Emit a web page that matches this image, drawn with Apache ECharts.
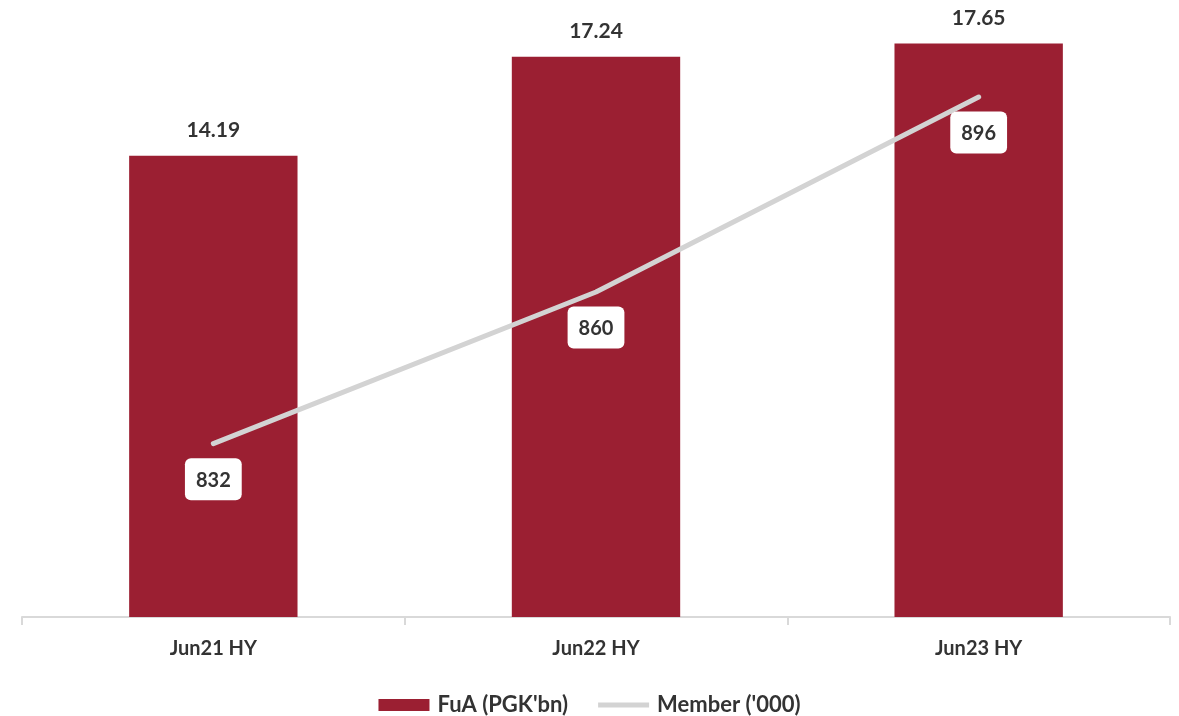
<!DOCTYPE html>
<html>
<head>
<meta charset="utf-8">
<script src="https://cdn.jsdelivr.net/npm/echarts@6/dist/echarts.min.js"></script>
<style>
  html, body { margin: 0; padding: 0; background: #fff; }
  #main { width: 1179px; height: 716px; }
</style>
</head>
<body>
<div id="main"></div>
<script>
const categories = ['Jun21 HY', 'Jun22 HY', 'Jun23 HY']
const fuaValues = [14.19, 17.24, 17.65]
const memberValues = [832, 860, 896]

const barColor = '#9b1f32'
const lineColor = '#d3d3d3'
const textColor = '#333333'
const fontName = 'Lato, "Open Sans", sans-serif'

const chart = echarts.init(document.getElementById('main'))
const option = {
  animation: false,
  textStyle: { fontFamily: fontName },
  grid: { left: 22, right: 9, top: 32, bottom: 99, containLabel: false },
  legend: {
    top: 689,
    left: 'center',
    itemWidth: 51,
    itemHeight: 12,
    itemGap: 30,
    textStyle: { color: textColor, fontSize: 22, fontWeight: 'bold', fontFamily: fontName, padding: [0, 0, 0, 3] },
    data: [
      { name: "FuA (PGK'bn)", icon: 'rect' },
      // 线条图例：细长条
      { name: "Member ('000)", icon: 'path://M0,0 H100 V10 H0 Z', itemStyle: { color: lineColor } }
    ]
  },
  xAxis: {
    type: 'category',
    data: categories,
    axisLine: { lineStyle: { color: '#d9d9d9', width: 2 } },
    axisTick: { show: true, length: 8, lineStyle: { color: '#d9d9d9', width: 2 } },
    axisLabel: { color: textColor, fontSize: 20, fontWeight: 'bold', margin: 22 }
  },
  yAxis: [
    { type: 'value', min: 0, max: 18, show: false, splitLine: { show: false } },
    { type: 'value', min: 800, max: 908, show: false, splitLine: { show: false } }
  ],
  series: [
    {
      name: "FuA (PGK'bn)",
      type: 'bar',
      data: fuaValues,
      barWidth: '44%',
      itemStyle: { color: barColor },
      label: {
        show: true,
        position: 'top',
        distance: 15,
        color: textColor,
        fontSize: 21,
        fontWeight: 'bold',
        formatter: function (p) { return p.value.toFixed(2) }
      }
    },
    {
      name: "Member ('000)",
      type: 'line',
      yAxisIndex: 1,
      data: memberValues,
      symbol: 'circle',
      symbolSize: 1,
      lineStyle: { color: lineColor, width: 5, cap: 'round' },
      itemStyle: { color: lineColor },
      label: {
        show: true,
        position: 'bottom',
        distance: 14,
        color: textColor,
        fontSize: 20,
        fontWeight: 'bold',
        backgroundColor: '#ffffff',
        borderRadius: 6,
        padding: [12, 11, 10, 11]
      },
      z: 3
    }
  ]
}
chart.setOption(option)
window.addEventListener('resize', function () {
  chart.resize()
})
</script>
</body>
</html>
